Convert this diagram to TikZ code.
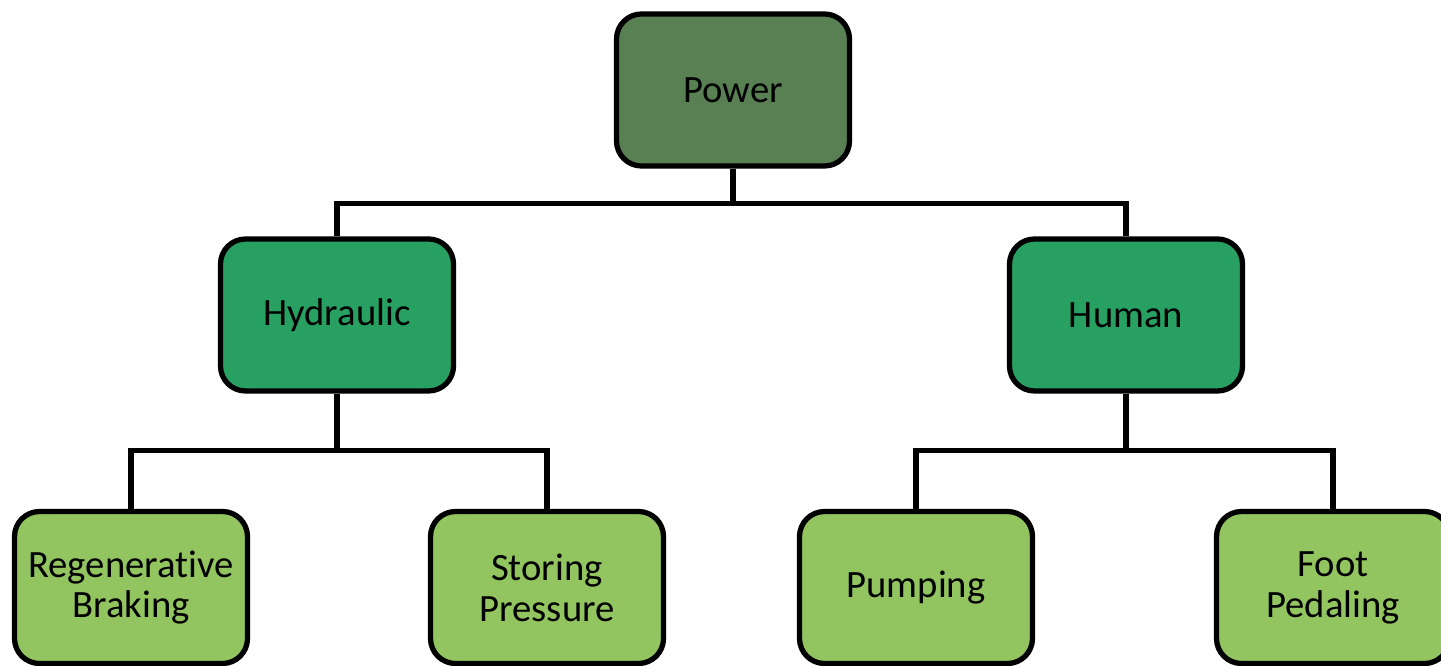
\documentclass[tikz,border=0pt]{standalone}
\usepackage{fontspec}
\setmainfont{Carlito}[Ligatures={NoCommon,NoRare,NoContextual}]
\usetikzlibrary{positioning,calc}
\definecolor{topgreen}{RGB}{88,128,82}
\definecolor{midgreen}{RGB}{39,160,98}
\definecolor{leafgreen}{RGB}{146,196,96}

\begin{document}
\begin{tikzpicture}[line width=3pt]
    \tikzset{
        box/.style={draw, rectangle, rounded corners=0.5cm, minimum width=4.66cm, minimum height=3.04cm, align=center, font=\fontsize{22}{23.3}\selectfont},
        top/.style={box, fill=topgreen},
        mid/.style={box, fill=midgreen},
        leaf/.style={box, fill=leafgreen},
        link/.style={draw, line width=3pt}
    }
    \useasboundingbox (0,0) rectangle (28.82,-13.32);
    \clip (0,0) rectangle (28.82,-13.32);

    \node [top] (power) at (14.66,-1.80) {Power};
    \node [mid] (hyd) at (6.74,-6.30) {Hydraulic};
    \node [mid] (hum) at (22.52,-6.30) {Human};
    \node [leaf] (regen) at (2.62,-11.75) {Regenerative\\Braking};
    \node [leaf] (store) at (10.94,-11.75) {Storing\\Pressure};
    \node [leaf] (pump) at (18.32,-11.75) {Pumping};
    \node [leaf] (foot) at (26.66,-11.75) {Foot\\Pedaling};

    % first level
    \path [link] (power.south) -- ++(0,-0.7) -| (hyd.north);
    \path [link] (power.south) -- ++(0,-0.7) -| (hum.north);

    % second level
    \path [link] (hyd.south) -- ++(0,-1.14) -| (regen.north);
    \path [link] (hyd.south) -- ++(0,-1.14) -| (store.north);
    \path [link] (hum.south) -- ++(0,-1.14) -| (pump.north);
    \path [link] (hum.south) -- ++(0,-1.14) -| (foot.north);
\end{tikzpicture}
\end{document}
